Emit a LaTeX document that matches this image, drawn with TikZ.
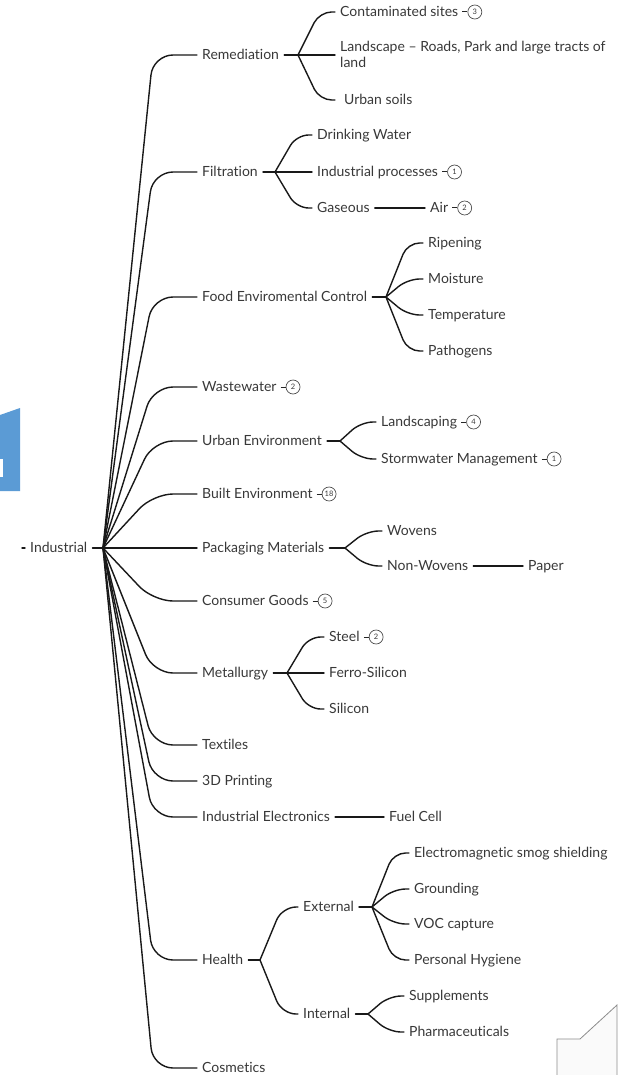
\documentclass[tikz,border=0pt]{standalone}
\usepackage{fontspec}
\setmainfont{Lato}[Ligatures=NoCommon]
\usetikzlibrary{calc}
\definecolor{txtc}{HTML}{383838}
\definecolor{blueshape}{HTML}{5B9BD5}
\tikzset{
  lbl/.style={anchor=west, inner xsep=5pt, inner ysep=0pt, text height=9pt, text depth=0pt, font=\fontsize{14}{16}\selectfont, text=txtc},
  conn/.style={draw=black!90, line width=1.4pt, line cap=round},
  dashc/.style={draw=black!85, line width=1pt},
  badge/.style={circle, draw=black!70, line width=0.7pt, minimum size=14pt, inner sep=0pt, font=\fontsize{7.5}{7.5}\selectfont, text=txtc, anchor=west},
}
\newcommand\bconn[3]{\draw[conn, rounded corners=#3] let \p1=(#1), \p2=(#2.west) in (\p1) -- ({(\x1+\x2)/2+3pt},\y2) -- (\p2);}
\newcommand\addbadge[3]{\node[badge] (#1) at ($(#2.east)+(4,0)$) {#3}; \draw[dashc] ($(#2.east)+(-1,0)$) -- (#1.west);}
\begin{document}
\begin{tikzpicture}[x=1pt,y=-1pt]
\useasboundingbox (0,0) rectangle (627,1075);
\fill[blueshape] (0,415) -- (20,408) -- (20,491) -- (0,491) -- cycle;
\fill[white] (0,459) rectangle (3,477);
\filldraw[fill=black!2, draw=black!45, line width=0.8pt] (557,1077) -- (557,1039) -- (580,1039) -- (617,1005) -- (617,1077);

% root
\coordinate (rin) at (22,548);
\node[lbl] (ind) at (25,548) {Industrial};
\draw[conn] (rin) -- (ind.west);
\coordinate (b0) at (103,548);
\draw[conn] (ind.east) -- (b0);

% level 1
\node[lbl] (rem) at (197,55) {Remediation};
\node[lbl] (fil) at (197,172) {Filtration};
\node[lbl] (food) at (197,297) {Food Enviromental Control};
\node[lbl] (wst) at (197,387) {Wastewater};
\node[lbl] (urb) at (197,441) {Urban Environment};
\node[lbl] (blt) at (197,494) {Built Environment};
\node[lbl] (pck) at (197,548) {Packaging Materials};
\node[lbl] (cns) at (197,601) {Consumer Goods};
\node[lbl] (met) at (197,673) {Metallurgy};
\node[lbl] (tex) at (197,745) {Textiles};
\node[lbl] (prn) at (197,781) {3D Printing};
\node[lbl] (ele) at (197,817) {Industrial Electronics};
\node[lbl] (hea) at (197,960) {Health};
\node[lbl] (cos) at (197,1068) {Cosmetics};
\foreach \q in {rem,fil,food,wst,urb,blt,pck,cns,met,tex,prn,ele,hea,cos} {\bconn{b0}{\q}{20pt}}

% branch points
\coordinate (brem) at (298,55);  \draw[conn] (rem.east) -- (brem);
\coordinate (bfil) at (275,172); \draw[conn] (fil.east) -- (bfil);
\coordinate (bfood) at (386,297); \draw[conn] (food.east) -- (bfood);
\coordinate (burb) at (340,441); \draw[conn] (urb.east) -- (burb);
\coordinate (bpck) at (345,548); \draw[conn] (pck.east) -- (bpck);
\coordinate (bmet) at (287,673); \draw[conn] (met.east) -- (bmet);
\coordinate (bhea) at (260,960); \draw[conn] (hea.east) -- (bhea);

% Remediation
\node[lbl] (cont) at (335,12) {Contaminated sites};
\node[lbl, text height=25pt, text depth=0pt, align=left] (land) at (335,55) {Landscape – Roads, Park and large tracts of\\land};
\node[lbl] (usoil) at (335,100) {\hspace*{4pt}Urban soils};
\foreach \q in {cont,land,usoil} {\bconn{brem}{\q}{12pt}}

% Filtration
\node[lbl] (drink) at (312,135) {Drinking Water};
\node[lbl] (indp) at (312,172) {Industrial processes};
\node[lbl] (gas) at (312,208) {Gaseous};
\foreach \q in {drink,indp,gas} {\bconn{bfil}{\q}{12pt}}
\node[lbl] (air) at (425,208) {Air};
\draw[conn] (gas.east) -- (air.west);

% Food
\node[lbl] (ripe) at (423,243) {Ripening};
\node[lbl] (moist) at (423,279) {Moisture};
\node[lbl] (temp) at (423,315) {Temperature};
\node[lbl] (path) at (423,351) {Pathogens};
\foreach \q in {ripe,moist,temp,path} {\bconn{bfood}{\q}{12pt}}

% Urban
\node[lbl] (lsc) at (376,422) {Landscaping};
\node[lbl] (storm) at (376,459) {Stormwater Management};
\foreach \q in {lsc,storm} {\bconn{burb}{\q}{12pt}}

% Packaging
\node[lbl] (wov) at (382,531) {Wovens};
\node[lbl] (nonw) at (382,566) {Non-Wovens};
\foreach \q in {wov,nonw} {\bconn{bpck}{\q}{12pt}}
\node[lbl] (paper) at (523,566) {Paper};
\draw[conn] (nonw.east) -- (paper.west);

% Metallurgy
\node[lbl] (steel) at (324,637) {Steel};
\node[lbl] (ferro) at (324,673) {Ferro-Silicon};
\node[lbl] (sil) at (324,709) {Silicon};
\foreach \q in {steel,ferro,sil} {\bconn{bmet}{\q}{12pt}}

% Electronics
\node[lbl] (fuel) at (384,817) {Fuel Cell};
\draw[conn] (ele.east) -- (fuel.west);

% Health
\node[lbl] (ext) at (298,907) {External};
\node[lbl] (int) at (298,1014) {Internal};
\foreach \q in {ext,int} {\bconn{bhea}{\q}{14pt}}
\coordinate (bext) at (372,907); \draw[conn] (ext.east) -- (bext);
\coordinate (bint) at (368,1014); \draw[conn] (int.east) -- (bint);
\node[lbl] (ems) at (409,853) {Electromagnetic smog shielding};
\node[lbl] (grd) at (409,889) {Grounding};
\node[lbl] (voc) at (409,924) {VOC capture};
\node[lbl] (hyg) at (409,960) {Personal Hygiene};
\foreach \q in {ems,grd,voc,hyg} {\bconn{bext}{\q}{12pt}}
\node[lbl] (sup) at (404,996) {Supplements};
\node[lbl] (pha) at (404,1032) {Pharmaceuticals};
\foreach \q in {sup,pha} {\bconn{bint}{\q}{12pt}}

% badges
\addbadge{bg1}{cont}{3}
\addbadge{bg2}{indp}{1}
\addbadge{bg3}{air}{2}
\addbadge{bg4}{wst}{2}
\addbadge{bg5}{blt}{18}
\addbadge{bg6}{cns}{5}
\addbadge{bg7}{lsc}{4}
\addbadge{bg8}{storm}{1}
\addbadge{bg9}{steel}{2}
\end{tikzpicture}
\end{document}
